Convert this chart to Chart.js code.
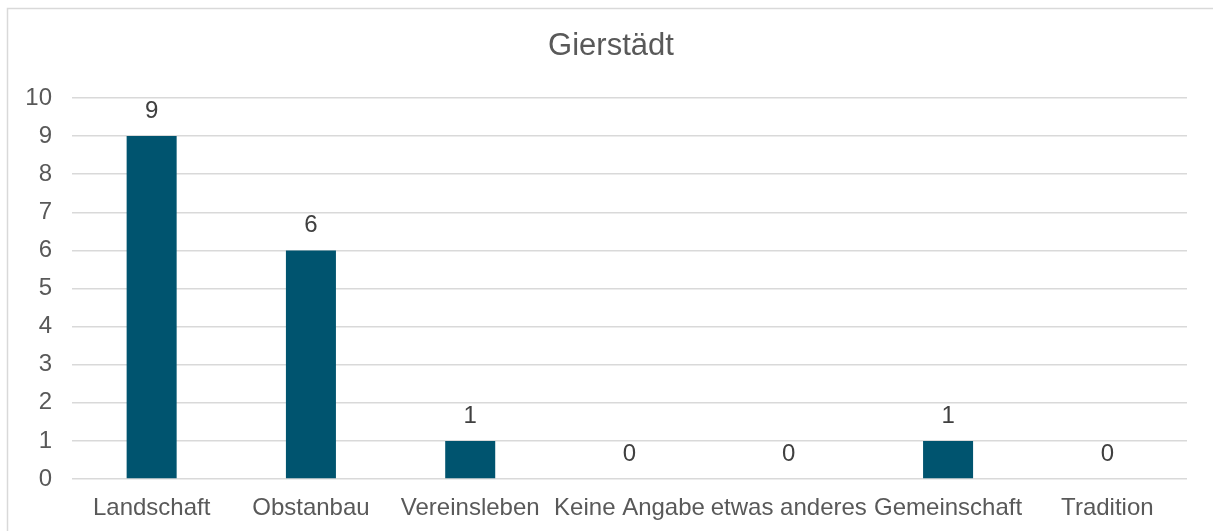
<!DOCTYPE html>
<html>
<head>
<meta charset="utf-8">
<script src="https://cdn.jsdelivr.net/npm/chart.js@4/dist/chart.umd.min.js"></script>
<style>
  html, body { margin: 0; padding: 0; background: #ffffff; }
  #wrap { width: 1213px; height: 531px; }
</style>
</head>
<body>
<div id="wrap"><canvas id="grafico" width="1213" height="531"></canvas></div>
<script>
// Daten aus dem Diagramm
const titel = "Gierstädt";
const kategorien = ["Landschaft", "Obstanbau", "Vereinsleben", "Keine Angabe", "etwas anderes", "Gemeinschaft", "Tradition"];
const werte = [9, 6, 1, 0, 0, 1, 0];
const yTicks = [0, 1, 2, 3, 4, 5, 6, 7, 8, 9, 10];

const schrift = "'Liberation Sans', Arial, sans-serif";

// Rahmen oben und links wie im Original
const rahmenPlugin = {
    id: "rahmen",
    beforeDraw(chart) {
        const ctx = chart.ctx;
        ctx.save();
        ctx.strokeStyle = "#d9d9d9";
        ctx.lineWidth = 1.5;
        ctx.beginPath();
        ctx.moveTo(7.5, chart.height);
        ctx.lineTo(7.5, 8.5);
        ctx.lineTo(chart.width, 8.5);
        ctx.stroke();
        ctx.restore();
    }
};

// Titel mittig über dem ganzen Diagrammrahmen (nicht nur über der Plotfläche)
const titelPlugin = {
    id: "titel",
    afterDraw(chart) {
        const ctx = chart.ctx;
        ctx.save();
        ctx.fillStyle = "#595959";
        ctx.font = "31px " + schrift;
        ctx.textAlign = "center";
        ctx.textBaseline = "middle";
        ctx.fillText(titel, 611, 46);
        ctx.restore();
    }
};

// Werte über den Balken
const wertePlugin = {
    id: "werteLabels",
    afterDatasetsDraw(chart) {
        const ctx = chart.ctx;
        const meta = chart.getDatasetMeta(0);
        ctx.save();
        ctx.fillStyle = "#404040";
        ctx.font = "24px " + schrift;
        ctx.textAlign = "center";
        ctx.textBaseline = "middle";
        meta.data.forEach((bar, i) => {
            ctx.fillText(String(werte[i]), bar.x, bar.y - 25);
        });
        ctx.restore();
    }
};

new Chart(document.getElementById("grafico").getContext("2d"), {
    type: "bar",
    data: {
        labels: kategorien,
        datasets: [{
            data: werte,
            backgroundColor: "#00546f",
            borderWidth: 0,
            categoryPercentage: 1,
            barPercentage: 0.314
        }]
    },
    options: {
        responsive: false,
        animation: false,
        devicePixelRatio: 1,
        layout: { padding: { left: 0, right: 26, top: 98, bottom: 0 } },
        plugins: {
            legend: { display: false },
            tooltip: { enabled: false },
            title: { display: false }
        },
        scales: {
            x: {
                grid: { display: false, drawTicks: false },
                border: { display: false },
                ticks: {
                    color: "#595959",
                    font: { family: schrift, size: 24 },
                    padding: 14.6,
                    autoSkip: false,
                    maxRotation: 0
                },
                afterFit(scale) { scale.height = 52; }
            },
            y: {
                min: 0,
                max: 10,
                afterBuildTicks(scale) { scale.ticks = yTicks.map(v => ({ value: v })); },
                grid: { color: "#d9d9d9", lineWidth: 1.5, drawTicks: false },
                border: { display: false },
                ticks: {
                    color: "#595959",
                    font: { family: schrift, size: 24 },
                    padding: 20
                },
                afterFit(scale) { scale.width = 72; }
            }
        }
    },
    plugins: [rahmenPlugin, wertePlugin, titelPlugin]
});
</script>
</body>
</html>
